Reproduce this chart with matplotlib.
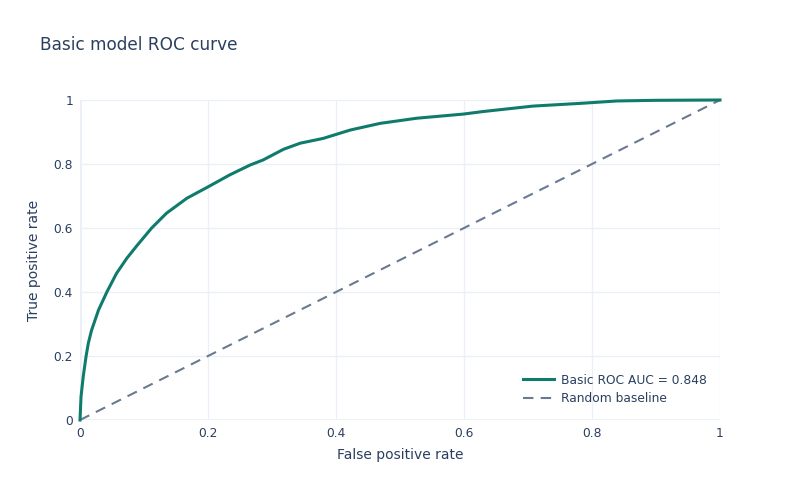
import matplotlib
matplotlib.use('Agg')
import matplotlib.pyplot as plt
from matplotlib.ticker import FuncFormatter

# ROC curve points
fpr = [0.0, 0.0016, 0.005, 0.0094, 0.013, 0.018, 0.029, 0.042, 0.057, 0.073,
       0.089, 0.112, 0.135, 0.167, 0.2005, 0.234, 0.266, 0.286, 0.318, 0.344,
       0.380, 0.422, 0.469, 0.526, 0.599, 0.630, 0.708, 0.786, 0.839, 0.9, 1.0]
tpr = [0.0, 0.073, 0.135, 0.198, 0.24, 0.28, 0.344, 0.40, 0.458, 0.505,
       0.545, 0.600, 0.646, 0.693, 0.729, 0.766, 0.797, 0.8125, 0.846, 0.865,
       0.880, 0.906, 0.927, 0.943, 0.956, 0.964, 0.981, 0.990, 0.997, 0.999, 1.0]
baseline = [0.0, 1.0]
auc = 0.848
ticks = [0, 0.2, 0.4, 0.6, 0.8, 1]

TXT = '#2a3f5f'
GRID = '#ebf0f8'

plt.rcParams['font.family'] = ['DejaVu Sans']

fig = plt.figure(figsize=(8, 5), dpi=100)
ax = fig.add_axes([0.1, 0.16, 0.8, 0.64])

ax.plot(fpr, tpr, color='#0f7b6c', lw=2.2, clip_on=False, zorder=3,
        label=f'Basic ROC AUC = {auc:.3f}')
ax.plot(baseline, baseline, color='#6b7a8f', lw=1.5, ls=(0, (5, 3.5)),
        clip_on=False, zorder=2, label='Random baseline')

ax.set_xlim(0, 1)
ax.set_ylim(0, 1)
ax.set_xticks(ticks)
ax.set_yticks(ticks)
fmt = FuncFormatter(lambda v, p: f'{v:g}')
ax.xaxis.set_major_formatter(fmt)
ax.yaxis.set_major_formatter(fmt)
ax.tick_params(length=0, labelsize=8.8, labelcolor=TXT, pad=5)
ax.grid(True, color=GRID, lw=1)
ax.set_axisbelow(True)
for s in ax.spines.values():
    s.set_visible(False)
ax.axhline(0, color=GRID, lw=2, zorder=1)
ax.axvline(0, color=GRID, lw=2, zorder=1)

ax.set_xlabel('False positive rate', fontsize=10, color=TXT, labelpad=6)
ax.set_ylabel('True positive rate', fontsize=10, color=TXT, labelpad=9)

leg = ax.legend(loc='lower right', bbox_to_anchor=(0.996, 0.012), frameon=False,
                fontsize=8.8, handlelength=2.6, handletextpad=0.5,
                labelspacing=0.45, labelcolor=TXT)

fig.text(0.05, 0.91, 'Basic model ROC curve', fontsize=12.2, color=TXT,
         ha='left', va='center')

fig.savefig('out.png', dpi=100, facecolor='white')
